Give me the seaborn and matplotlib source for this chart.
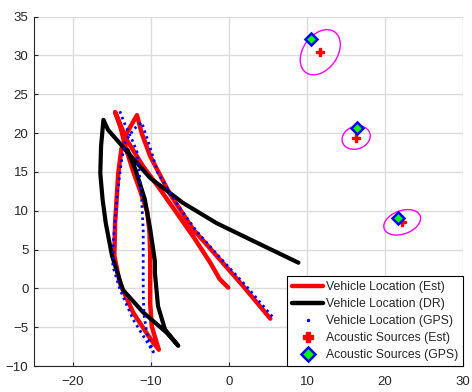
import matplotlib
matplotlib.use('Agg')
import matplotlib.pyplot as plt
import seaborn as sns
from matplotlib.patches import Ellipse
from matplotlib.lines import Line2D

sns.set_theme(style='whitegrid')
plt.rcParams['font.family'] = ['Liberation Sans', 'DejaVu Sans']

# Vehicle location, estimated (red)
est_x = [-0.1, -1.2, -2.4, -4.6, -6.7, -8.8, -11.0, -13.1, -14.6,
         -13.9, -13.3, -12.3, -11.3, -10.5, -10.2, -10.1, -10.1, -10.1, -9.9, -9.0,
         -10.0, -10.6, -12.3, -14.0, -14.7, -14.6, -14.2, -13.8, -13.1, -11.8,
         -11.2, -10.1, -7.6, -4.6, -1.6, 1.8, 5.3]
est_y = [0.1, 1.2, 3.3, 6.7, 9.7, 12.7, 15.7, 19.1, 22.7,
         20.7, 18.3, 15.1, 12.3, 9.9, 7.4, 4.5, 1.5, -2.0, -4.9, -7.9,
         -6.6, -5.7, -3.1, 0.7, 4.2, 8.4, 14.8, 17.9, 20.0, 22.3,
         20.0, 17.0, 12.2, 7.6, 4.2, 0.3, -3.9]

# Vehicle location, dead reckoning (black)
dr_x = [-13.0, -12.0, -10.8, -10.1, -9.5, -9.5, -9.1, -8.2, -6.5,
        -8.0, -11.0, -13.6, -15.0, -15.8, -16.2, -16.5, -16.4, -16.1,
        -15.5, -12.9, -10.1, -5.9, -1.6, 2.7, 8.9]
dr_y = [17.8, 15.3, 11.5, 7.6, 3.5, 2.0, -2.3, -5.3, -7.4,
        -5.7, -3.1, -0.2, 4.2, 8.4, 11.4, 14.8, 18.3, 21.7,
        20.4, 17.4, 14.2, 11.0, 8.4, 6.3, 3.3]

# Vehicle location, GPS (blue dots)
gps_x = [-14.0, -13.3, -12.5, -11.8, -11.5, -11.2, -11.0, -11.0, -11.0, -10.9, -10.5, -9.7,
         -11.0, -12.3, -14.0, -14.9, -14.8, -14.3, -13.8, -13.3, -12.2, -11.2,
         -10.3, -9.1, -6.5, -4.2, -1.2, 2.2, 5.6]
gps_y = [22.8, 21.0, 19.3, 17.6, 14.8, 11.5, 7.4, 3.5, -0.5, -3.4, -5.9, -8.2,
         -6.1, -4.0, -0.1, 2.9, 6.4, 12.3, 16.3, 18.9, 20.5, 21.4,
         18.7, 14.8, 10.6, 7.4, 4.0, 0.3, -3.7]

# Acoustic sources
src_gps_x = [10.5, 16.4, 21.6]
src_gps_y = [32.1, 20.6, 9.0]
src_est_x = [11.7, 16.3, 22.2]
src_est_y = [30.4, 19.4, 8.5]
ell_w = [6.4, 3.7, 4.9]
ell_h = [4.4, 2.9, 3.0]
ell_ang = [55, 20, 20]

fig = plt.figure(figsize=(4.72, 3.92), dpi=100)
ax = fig.add_axes([0.072, 0.0663, 0.909, 0.8916])

line_kw = dict(sort=False, estimator=None, ax=ax,
               solid_joinstyle='round', solid_capstyle='round')
sns.lineplot(x=est_x, y=est_y, color='red', lw=3.2, **line_kw)
sns.lineplot(x=dr_x, y=dr_y, color='black', lw=3, **line_kw)
ax.plot(gps_x, gps_y, color='blue', lw=2, ls=(0, (0.9, 1.3)), dash_capstyle='butt')

for cx, cy, w, h, a in zip(src_est_x, src_est_y, ell_w, ell_h, ell_ang):
    ax.add_patch(Ellipse((cx, cy), w, h, angle=a, fill=False, ec='#ff00ff', lw=1))

ax.plot(src_est_x, src_est_y, 'P', color='red', ms=6, ls='none')
ax.plot(src_gps_x, src_gps_y, 'D', mfc='#00ff00', mec='blue', mew=1.8, ms=6, ls='none')

ax.set_xlim(-25, 30)
ax.set_ylim(-10, 35)
ax.set_xticks(range(-20, 31, 10))
ax.set_yticks(range(-10, 36, 5))
ax.grid(True, color='#dcdcdc', lw=1)
for s in ['top', 'right']:
    ax.spines[s].set_visible(False)
for s in ['left', 'bottom']:
    ax.spines[s].set_color('#262626')
    ax.spines[s].set_linewidth(0.8)
ax.tick_params(bottom=True, left=True, direction='in', length=3, width=0.8,
               colors='#262626', labelsize=9.5)
ax.tick_params(axis='x', pad=7)
ax.tick_params(axis='y', pad=4)

handles = [
    Line2D([], [], color='red', lw=3.2, label='Vehicle Location (Est)'),
    Line2D([], [], color='black', lw=3.2, label='Vehicle Location (DR)'),
    Line2D([], [], color='blue', marker='.', ms=3, ls='none', label='Vehicle Location (GPS)'),
    Line2D([], [], color='red', marker='P', ms=7, ls='none', label='Acoustic Sources (Est)'),
    Line2D([], [], mfc='#00ff00', mec='blue', mew=1.8, marker='D', ms=7, ls='none',
           label='Acoustic Sources (GPS)'),
]
leg = ax.legend(handles=handles, loc='lower right', borderaxespad=0, fontsize=8.8,
                frameon=True, fancybox=False, edgecolor='black', framealpha=1,
                handlelength=2.5, handletextpad=0.25, labelspacing=0.41, borderpad=0.4)
leg.get_frame().set_linewidth(0.8)

plt.savefig('out.png', dpi=100)
